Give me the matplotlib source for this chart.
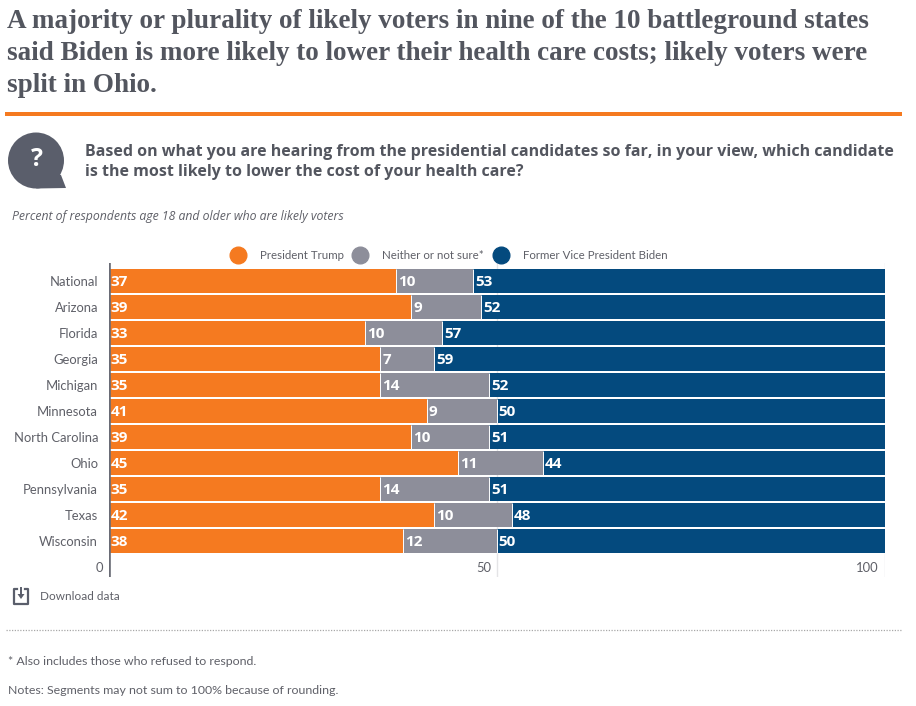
import matplotlib
matplotlib.use("Agg")
import matplotlib.pyplot as plt
from matplotlib.lines import Line2D
from matplotlib.patches import Circle, Polygon, Rectangle

states = ["National", "Arizona", "Florida", "Georgia", "Michigan", "Minnesota",
          "North Carolina", "Ohio", "Pennsylvania", "Texas", "Wisconsin"]
trump = [37, 39, 33, 35, 35, 41, 39, 45, 35, 42, 38]
neither = [10, 9, 10, 7, 14, 9, 10, 11, 14, 10, 12]
biden = [53, 52, 57, 59, 52, 50, 51, 44, 51, 48, 50]
series_names = ["President Trump", "Neither or not sure*", "Former Vice President Biden"]
x_ticks = [0, 50, 100]
title = ("A majority or plurality of likely voters in nine of the 10 battleground states\n"
         "said Biden is more likely to lower their health care costs; likely voters were\n"
         "split in Ohio.")
question = ("Based on what you are hearing from the presidential candidates so far, in your view, which candidate\n"
            "is the most likely to lower the cost of your health care?")
subtitle = "Percent of respondents age 18 and older who are likely voters"
note1 = "* Also includes those who refused to respond."
note2 = "Notes: Segments may not sum to 100% because of rounding."

W, H = 916, 706
ORANGE, GRAY, BLUE = "#F57A20", "#8D8E9A", "#044A7E"
DARK, TEXT = "#5A5E6B", "#5F6068"
colors = [ORANGE, GRAY, BLUE]
plt.rcParams["font.family"] = ["Lato", "DejaVu Sans"]

fig = plt.figure(figsize=(W / 100, H / 100), dpi=100, facecolor="white")
def fx(x): return x / W
def fy(y): return 1 - y / H

AL, AR, AT, AB = 108.5, 884.5, 263, 577
ax = fig.add_axes([fx(AL), fy(AB), (AR - AL) / W, (AB - AT) / H])
ax.set_xlim(0, 100)
ax.set_ylim((AB - 281.3) / 26, (AT - 281.3) / 26)
ax.patch.set_alpha(0)
for s in ax.spines.values():
    s.set_visible(False)

for xt in x_ticks[1:]:
    ax.axvline(xt, color="#E4E4E6", lw=1, zorder=0)
ax.axvline(0, color="#6A6C76", lw=1.9, zorder=5)

ypos = list(range(len(states)))
left = [0] * len(states)
for vals, c in zip([trump, neither, biden], colors):
    ax.barh(ypos, vals, left=left, height=0.92, color=c, edgecolor="none", zorder=2)
    for y, l, v in zip(ypos, left, vals):
        ax.annotate(str(v), (l, y), xytext=(1.5, 0.7), textcoords="offset points",
                    color="white", fontsize=11, fontweight="bold", va="center_baseline",
                    ha="left", family="Open Sans", zorder=4)
    left = [a + b for a, b in zip(left, vals)]
for i, (a, b) in enumerate(zip(trump, neither)):
    ax.vlines([a, a + b], i - 0.46, i + 0.46, color="white", lw=0.7, zorder=3)

ax.set_yticks(ypos, states)
ax.set_xticks([])
ax.tick_params(axis="y", length=0, pad=7.5, labelsize=9.4, labelcolor=TEXT)
for xt in x_ticks:
    fig.text(fx(AL + xt * (AR - AL) / 100 - 5.5), fy(568), str(xt), ha="right", va="center",
             fontsize=9.4, color=TEXT)

handles = [Line2D([], [], ls="none", marker="o", ms=12, color=c) for c in colors]
fig.legend(handles, series_names, ncol=3, loc="center", bbox_to_anchor=(fx(449.5), fy(255.5)),
           frameon=False, fontsize=8.3, labelcolor=TEXT, handletextpad=1.4,
           columnspacing=0.95, borderpad=0, handlelength=1)

fig.text(fx(7), fy(53.5), title, fontsize=19.5, fontweight="bold", family="Liberation Serif",
         color="#53565F", va="center", ha="left", linespacing=1.36)
fig.add_artist(Rectangle((fx(5), fy(116)), fx(897), 4 / H, transform=fig.transFigure,
                         color=ORANGE, lw=0))
fig.text(fx(85), fy(162), question, fontsize=11.55, fontweight="bold", family="Open Sans",
         color="#53565F", va="center", ha="left", linespacing=1.38)
fig.text(fx(12), fy(217), subtitle, fontsize=8.8, style="italic", family="Open Sans",
         color=TEXT, va="center", ha="left")

# question bubble
fig.add_artist(Circle((36, H - 160.5), 28, transform=None, color=DARK, lw=0))
fig.add_artist(Polygon([(36, H - 188.5), (66, H - 188), (61, H - 175), (52, H - 172)],
                       closed=True, transform=None, color=DARK, lw=0))
fig.text(fx(37), fy(160), "?", color="white", fontsize=18, fontweight="bold",
         family="Open Sans", ha="center", va="center")

# download icon
fig.add_artist(Line2D([17, 14, 14, 28, 28, 25], [H - 589, H - 589, H - 604, H - 604, H - 589, H - 589],
                      transform=None, color=DARK, lw=1.6))
fig.add_artist(Line2D([21, 21], [H - 588, H - 596], transform=None, color=DARK, lw=1.4))
fig.add_artist(Polygon([(17.5, H - 594), (24.5, H - 594), (21, H - 599)], closed=True,
                       transform=None, color=DARK, lw=0))
fig.text(fx(39.5), fy(597), "Download data", fontsize=8.5, color=TEXT, va="center", ha="left")

fig.add_artist(Line2D([fx(6), fx(901)], [fy(629.5), fy(629.5)], transform=fig.transFigure,
                      color="#A8A8A8", lw=0.9, ls=(0, (1, 1.2))))
fig.text(fx(8), fy(661.5), note1, fontsize=8.95, color=TEXT, va="center", ha="left")
fig.text(fx(8), fy(690.5), note2, fontsize=8.95, color=TEXT, va="center", ha="left")

fig.savefig("out.png", dpi=100)
